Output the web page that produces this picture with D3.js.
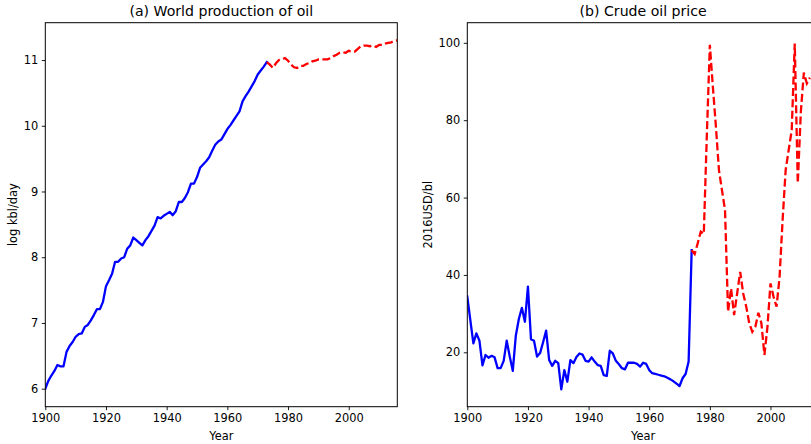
<!DOCTYPE html>
<html>
<head>
<meta charset="utf-8">
<script src="https://cdn.jsdelivr.net/npm/d3@7"></script>
<style>
  html, body { margin: 0; padding: 0; background: #fff; }
  svg { display: block; font-family: "DejaVu Sans", sans-serif; }
</style>
</head>
<body>
<svg id="chart" width="811" height="444"></svg>
<script>
// ---------- data ----------
const prodStartYear = 1900;
const prodHist = [6.00, 6.12, 6.20, 6.27, 6.36, 6.34, 6.34, 6.56, 6.65, 6.71,
  6.79, 6.83, 6.84, 6.94, 6.97, 7.04, 7.12, 7.21, 7.21, 7.32,
  7.56, 7.65, 7.75, 7.93, 7.93, 7.98, 8.00, 8.13, 8.18, 8.30,
  8.26, 8.22, 8.18, 8.26, 8.32, 8.40, 8.48, 8.61, 8.59, 8.63,
  8.66, 8.69, 8.64, 8.70, 8.84, 8.84, 8.90, 8.99, 9.12, 9.12,
  9.22, 9.36, 9.41, 9.46, 9.52, 9.62, 9.71, 9.76, 9.79, 9.87,
  9.95, 10.01, 10.08, 10.15, 10.22, 10.37, 10.45, 10.52, 10.60, 10.68,
  10.78, 10.84, 10.90, 10.97];
const prodRecentStartYear = 1973;
const prodRecent = [10.97, 10.93, 10.88, 10.95, 11.00, 11.01, 11.03, 10.99, 10.93, 10.89,
  10.88, 10.91, 10.91, 10.94, 10.95, 10.98, 10.99, 11.01, 11.01, 11.01,
  11.01, 11.03, 11.06, 11.08, 11.11, 11.12, 11.11, 11.14, 11.13, 11.13,
  11.17, 11.21, 11.22, 11.22, 11.21, 11.22, 11.20, 11.23, 11.23, 11.25,
  11.26, 11.27, 11.29, 11.30];

const priceStartYear = 1900;
const priceHist = [34.4, 28.3, 22.3, 24.9, 23.0, 16.6, 19.3, 18.6, 19.1, 18.7,
  15.9, 15.9, 17.8, 23.0, 18.9, 15.2, 24.3, 28.6, 31.5, 27.9,
  37.0, 23.4, 23.0, 18.9, 19.8, 22.6, 25.6, 18.0, 16.5, 17.8,
  17.2, 10.4, 15.4, 12.4, 18.0, 17.2, 18.8, 19.7, 19.4, 17.8,
  17.6, 18.7, 17.6, 16.7, 16.5, 14.1, 13.9, 20.4, 19.7, 17.8,
  16.9, 15.9, 15.6, 17.3, 17.3, 17.3, 17.0, 16.3, 17.3, 17.0,
  15.4, 14.6, 14.4, 14.2, 14.0, 13.8, 13.4, 13.0, 12.5, 11.9,
  11.3, 13.3, 14.4, 17.6, 46.4];
const priceRecentStartYear = 1974;
const priceRecent = [46.4, 45.4, 48.2, 51.2, 50.6, 76.0, 99.5, 88.6, 78.3, 67.1,
  61.9, 56.8, 30.5, 36.5, 29.6, 35.2, 40.8, 35.2, 31.8, 27.5,
  25.3, 26.6, 30.2, 27.5, 19.3, 26.6, 37.8, 34.4, 31.8, 39.5,
  54.2, 67.1, 72.3, 77.4, 99.8, 63.7, 82.0, 92.3, 89.5, 91.0];

const xTicks = [1900, 1920, 1940, 1960, 1980, 2000];
const prodTicks = [6, 7, 8, 9, 10, 11];
const priceTicks = [20, 40, 60, 80, 100];

const panels = [
  { title: "(a) World production of oil", ylabel: "log kbl/day",
    left: 45.3, right: 397.3, ydom: [5.726, 11.568], yticks: prodTicks,
    hist: prodHist, histStart: prodStartYear, recent: prodRecent, recentStart: prodRecentStartYear,
    ylabelX: 17.3 },
  { title: "(b) Crude oil price", ylabel: "2016USD/bl",
    left: 467.3, right: 819.0, ydom: [5.94, 105.2], yticks: priceTicks,
    hist: priceHist, histStart: priceStartYear, recent: priceRecent, recentStart: priceRecentStartYear,
    ylabelX: 431.5 }
];

// ---------- drawing ----------
const svg = d3.select("#chart");
const plotTop = 22.7, plotBottom = 406.7;
const tickFont = 11.4;

panels.forEach((p, i) => {
  const x = d3.scaleLinear().domain([1900, 2016]).range([p.left, p.right]);
  const y = d3.scaleLinear().domain(p.ydom).range([plotBottom, plotTop]);
  const g = svg.append("g");

  const clipId = "clip" + i;
  svg.append("clipPath").attr("id", clipId)
    .append("rect").attr("x", p.left).attr("y", plotTop)
    .attr("width", p.right - p.left).attr("height", plotBottom - plotTop);

  const line = d3.line().x(d => x(d[0])).y(d => y(d[1]));
  const histPts = p.hist.map((v, k) => [p.histStart + k, v]);
  const recentPts = p.recent.map((v, k) => [p.recentStart + k, v]);

  const lines = g.append("g").attr("clip-path", `url(#${clipId})`);
  lines.append("path").datum(histPts).attr("d", line)
    .attr("fill", "none").attr("stroke", "#0000ff").attr("stroke-width", 2.3)
    .attr("stroke-linejoin", "round").attr("stroke-linecap", "square");
  lines.append("path").datum(recentPts).attr("d", line)
    .attr("fill", "none").attr("stroke", "#ff0000").attr("stroke-width", 2.3)
    .attr("stroke-dasharray", "8,3.4");

  // axes
  const xAxis = d3.axisBottom(x).tickValues(xTicks).tickFormat(d3.format("d"))
    .tickSizeInner(3.5).tickSizeOuter(0).tickPadding(3.5);
  const yAxis = d3.axisLeft(y).tickValues(p.yticks).tickFormat(d3.format("d"))
    .tickSizeInner(3.5).tickSizeOuter(0).tickPadding(3.5);

  const gx = g.append("g").attr("transform", `translate(0,${plotBottom})`).call(xAxis);
  const gy = g.append("g").attr("transform", `translate(${p.left},0)`).call(yAxis);
  [gx, gy].forEach(a => {
    a.select(".domain").remove();
    a.selectAll("text").attr("font-size", tickFont).attr("fill", "#000")
      .attr("font-family", "DejaVu Sans, sans-serif");
    a.selectAll("line").attr("stroke", "#000").attr("stroke-width", 0.9);
  });

  // frame (spines)
  g.append("rect").attr("x", p.left).attr("y", plotTop)
    .attr("width", p.right - p.left).attr("height", plotBottom - plotTop)
    .attr("fill", "none").attr("stroke", "#000").attr("stroke-width", 1);

  // title
  g.append("text").attr("x", (p.left + p.right) / 2).attr("y", 16)
    .attr("text-anchor", "middle").attr("font-size", 14.1).attr("fill", "#000")
    .text(p.title);

  // x label
  g.append("text").attr("x", (p.left + p.right) / 2).attr("y", 439.5)
    .attr("text-anchor", "middle").attr("font-size", tickFont).attr("fill", "#000")
    .text("Year");

  // y label
  g.append("text")
    .attr("transform", `translate(${p.ylabelX},${(plotTop + plotBottom) / 2}) rotate(-90)`)
    .attr("text-anchor", "middle").attr("font-size", tickFont).attr("fill", "#000")
    .text(p.ylabel);
});
</script>
</body>
</html>
